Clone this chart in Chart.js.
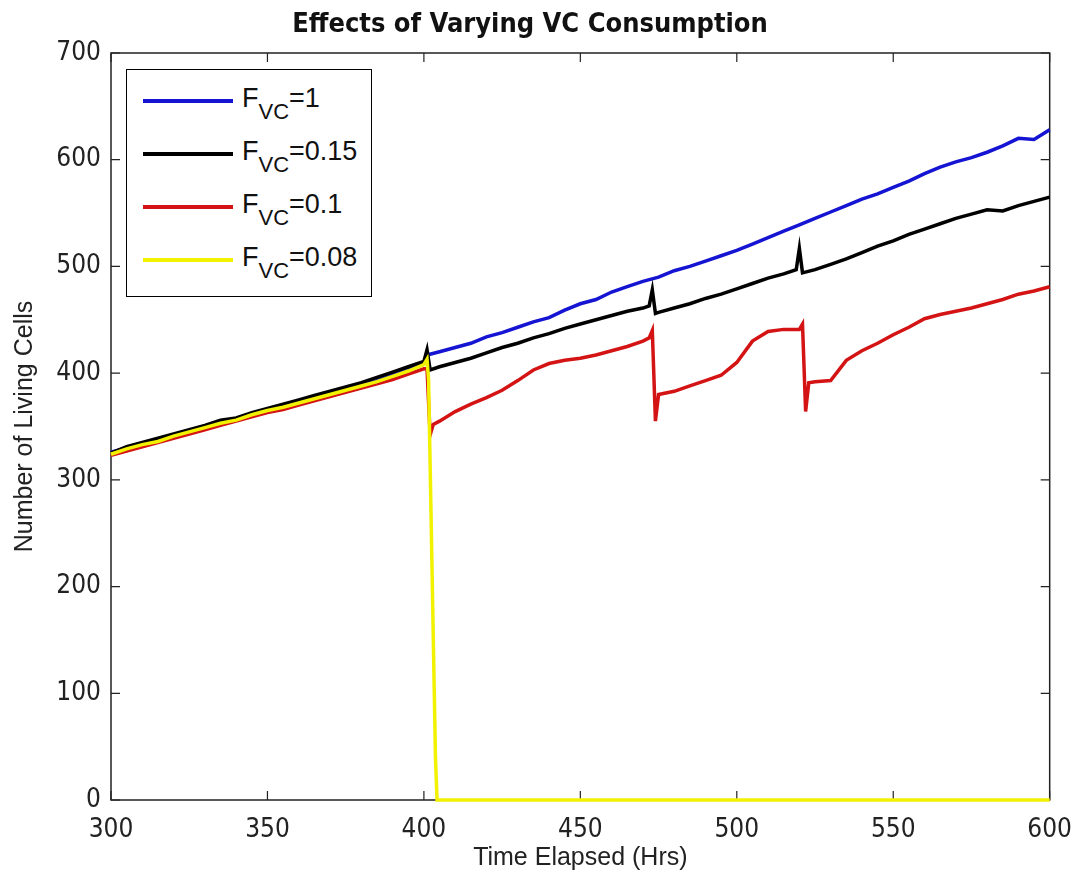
<!DOCTYPE html>
<html>
<head>
<meta charset="utf-8">
<script src="https://cdn.jsdelivr.net/npm/chart.js@4/dist/chart.umd.min.js"></script>
<style>
  body { margin: 0; background: #fff; }
  #wrap { position: relative; width: 1087px; height: 883px; }
  #legend {
    position: absolute; left: 126px; top: 69px; width: 246px; height: 228px;
    border: 1.5px solid #000; background: #fff; box-sizing: border-box;
    font-family: "Liberation Sans", Arial, sans-serif; font-size: 27px; color: #111;
  }
  .row { position: absolute; left: 16px; height: 30px; }
  .row .sw { position: absolute; left: 0; top: 14px; width: 90px; height: 3.5px; }
  .row .tx { position: absolute; left: 99px; top: -2px; white-space: nowrap; }
  .row sub { font-size: 22px; vertical-align: -12px; line-height: 0; }
</style>
</head>
<body>
<div id="wrap">
  <canvas id="chart" width="1087" height="883"></canvas>
  <div id="legend"></div>
</div>
<script>
const seriesLabels = ["1", "0.15", "0.1", "0.08"]
const seriesColors = ["#1414d2", "#000000", "#d41414", "#f2f200"]

// common time grid before the crash at ~400 h
const preHours = [300, 305, 310, 315, 320, 325, 330, 335, 340, 345, 350, 355, 360, 365, 370, 375, 380, 385, 390, 395, 400]

const blueHours = preHours.concat([401, 405, 410, 415, 420, 425, 430, 435, 440, 445, 450, 455, 460, 465, 470, 475, 480, 485, 490, 495, 500, 505, 510, 515, 520, 525, 530, 535, 540, 545, 550, 555, 560, 565, 570, 575, 580, 585, 590, 595, 600])
const blueValues = [326, 330, 334, 337, 342, 346, 350, 354, 357, 362, 366, 369, 373, 377, 381, 385, 389, 393, 398, 403, 409,
  417, 420, 424, 428, 434, 438, 443, 448, 452, 459, 465, 469, 476, 481, 486, 490, 496, 500, 505, 510, 515, 521, 527, 533, 539, 545, 551, 557, 563, 568, 574, 580, 587, 593, 598, 602, 607, 613, 620, 619, 628]

const blackHours = preHours.concat([401, 402, 405, 410, 415, 420, 425, 430, 435, 440, 445, 450, 455, 460, 465, 470, 472, 473, 474, 475, 480, 485, 490, 495, 500, 505, 510, 515, 519, 520, 521, 525, 530, 535, 540, 545, 550, 555, 560, 565, 570, 575, 580, 585, 590, 595, 600])
const blackValues = [325, 331, 335, 339, 343, 347, 351, 356, 358, 363, 367, 371, 375, 379, 383, 387, 391, 396, 401, 406, 411,
  422, 403, 406, 410, 414, 419, 424, 428, 433, 437, 442, 446, 450, 454, 458, 461, 463, 478, 456, 457, 461, 465, 470, 474, 479, 484, 489, 493, 497, 517, 494, 497, 502, 507, 513, 519, 524, 530, 535, 540, 545, 549, 553, 552, 557, 561, 565]

const redHours = preHours.concat([401, 402, 403, 405, 410, 415, 420, 425, 430, 435, 440, 445, 450, 455, 460, 465, 470, 472, 473, 474, 475, 480, 485, 490, 495, 500, 505, 510, 515, 520, 521, 522, 523, 525, 530, 535, 540, 545, 550, 555, 560, 565, 570, 575, 580, 585, 590, 595, 600])
const redValues = [323, 327, 331, 335, 339, 343, 347, 351, 355, 359, 363, 366, 370, 374, 378, 382, 386, 390, 394, 399, 404,
  404, 342, 352, 355, 364, 371, 377, 384, 393, 403, 409, 412, 414, 417, 421, 425, 430, 433, 440, 355, 380, 383, 388, 393, 398, 410, 430, 439, 441, 441, 446, 364, 391, 392, 393, 412, 421, 428, 436, 443, 451, 455, 458, 461, 465, 469, 474, 477, 481]

const yellowHours = preHours.concat([401, 401.5, 403.7, 404.2, 600])
const yellowValues = [324, 329, 333, 336, 341, 345, 349, 353, 356, 361, 365, 368, 372, 376, 380, 384, 388, 392, 397, 402, 408,
  413, 394, 40, 0, 0]

const xTicks = [300, 350, 400, 450, 500, 550, 600]
const yTicks = [0, 100, 200, 300, 400, 500, 600, 700]

function pts(hours, values) {
  return hours.map((h, i) => ({ x: h, y: values[i] }))
}

const allHours = [blueHours, blackHours, redHours, yellowHours]
const allValues = [blueValues, blackValues, redValues, yellowValues]

const narrow = '"Liberation Sans Narrow", "DejaVu Sans Condensed", sans-serif'
const regular = '"Liberation Sans", Arial, sans-serif'

// MATLAB style box with inward ticks on all four sides (under the lines)
const boxTicks = {
  id: "boxTicks",
  beforeDatasetsDraw(chart) {
    const { ctx, chartArea: a, scales } = chart
    ctx.save()
    ctx.strokeStyle = "#222"
    ctx.lineWidth = 1.5
    ctx.strokeRect(a.left, a.top, a.right - a.left, a.bottom - a.top)
    ctx.lineWidth = 1.2
    ctx.beginPath()
    xTicks.forEach(v => {
      const px = scales.x.getPixelForValue(v)
      ctx.moveTo(px, a.bottom); ctx.lineTo(px, a.bottom - 9)
      ctx.moveTo(px, a.top); ctx.lineTo(px, a.top + 9)
    })
    yTicks.forEach(v => {
      const py = scales.y.getPixelForValue(v)
      ctx.moveTo(a.left, py); ctx.lineTo(a.left + 9, py)
      ctx.moveTo(a.right, py); ctx.lineTo(a.right - 9, py)
    })
    ctx.stroke()
    ctx.restore()
  }
}

const options = {
  type: "line",
  data: {
    datasets: seriesLabels.map((lab, i) => ({
      label: "FVC=" + lab,
      data: pts(allHours[i], allValues[i]),
      borderColor: seriesColors[i],
      borderWidth: 3.5,
      pointRadius: 0,
      tension: 0,
      clip: false,
      order: seriesLabels.length - i,  // later series drawn on top, like MATLAB
    })),
  },
  options: {
    responsive: false,
    animation: false,
    layout: { padding: { left: 0, right: 27, top: 0, bottom: 0 } },
    plugins: {
      legend: { display: false },
      tooltip: { enabled: false },
      title: {
        display: true,
        text: "Effects of Varying VC Consumption",
        color: "#111",
        font: { family: narrow, size: 27, weight: "bold", lineHeight: 1.2 },
        padding: { top: 9, bottom: 11.6 },
      },
    },
    scales: {
      x: {
        type: "linear",
        min: 300,
        max: 600,
        afterBuildTicks: s => { s.ticks = xTicks.map(v => ({ value: v })) },
        afterFit: s => { s.height = 83 },
        grid: { display: false, drawTicks: false },
        border: { display: false },
        ticks: { color: "#222", padding: 15, maxRotation: 0, font: { family: narrow, size: 26 } },
        title: {
          display: true, text: "Time Elapsed (Hrs)", color: "#222",
          font: { family: regular, size: 25, lineHeight: 1.2 },
          padding: { bottom: 10 },
        },
      },
      y: {
        min: 0,
        max: 700,
        afterBuildTicks: s => { s.ticks = yTicks.map(v => ({ value: v })) },
        afterFit: s => { s.width = 111 },
        grid: { display: false, drawTicks: false },
        border: { display: false },
        ticks: { color: "#222", padding: 10, font: { family: narrow, size: 26 } },
        title: {
          display: true, text: "Number of Living Cells", color: "#222",
          font: { family: regular, size: 25, lineHeight: 1.2 },
          padding: { top: 10 },
        },
      },
    },
  },
  plugins: [boxTicks],
}

new Chart(document.getElementById("chart"), options)

// legend with subscripts as HTML text
const legend = document.getElementById("legend")
seriesLabels.forEach((lab, i) => {
  const row = document.createElement("div")
  row.className = "row"
  row.style.top = (15 + i * 53) + "px"
  row.innerHTML = '<div class="sw" style="background:' + seriesColors[i] + '"></div>' +
    '<div class="tx">F<sub>VC</sub>=' + lab + '</div>'
  legend.appendChild(row)
})
</script>
</body>
</html>
